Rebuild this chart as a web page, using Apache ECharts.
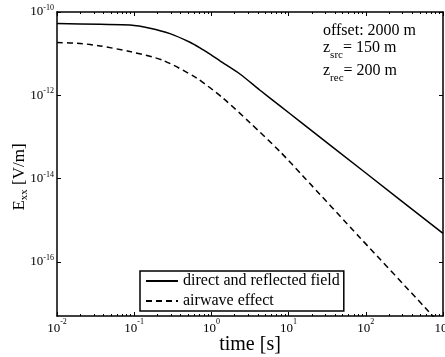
<!DOCTYPE html>
<html><head><meta charset="utf-8">
<script src="https://cdn.jsdelivr.net/npm/echarts@6/dist/echarts.min.js"></script>
<style>html,body{margin:0;padding:0;background:#fff}#c{width:445px;height:357px}</style>
</head><body><div id="c"></div>
<script>
// ---- data ----
const seriesNames = ['direct and reflected field', 'airwave effect'];
const timeDirect  = [0.01, 0.0361, 0.0883, 0.160, 0.291, 0.528, 0.711, 0.959, 1.29, 2.34, 4.27, 7.74, 14.1, 100, 1000];
const fieldDirect = [5.31e-11, 5.07e-11, 4.89e-11, 4.09e-11, 3.03e-11, 1.88e-11, 1.38e-11, 9.7e-12, 6.70e-12, 3.24e-12, 1.32e-12, 5.57e-13, 2.32e-13, 1.36e-14, 4.8e-16];
const timeAirwave  = [0.01, 0.0199, 0.0361, 0.0883, 0.236, 0.650, 1.41, 3.16, 7.74, 15.4, 84.1, 585, 1000];
const fieldAirwave = [1.84e-11, 1.76e-11, 1.53e-11, 1.12e-11, 6.89e-12, 2.55e-12, 8.57e-13, 2.19e-13, 4.44e-14, 1.14e-14, 3.80e-16, 8.00e-18, 2.70e-18];
const xTickExponents = [-2, -1, 0, 1, 2, 3];
const yTickExponents = [-16, -14, -12, -10];
const minorMantissas = [2, 3, 4, 5, 6, 7, 8, 9];
const xRange = [1e-2, 1e3];
const yRange = [5e-18, 1e-10];
const annotation = ['offset: 2000 m', ['z', 'src', '= 150 m'], ['z', 'rec', '= 200 m']];
const xTitle = 'time [s]';
const yTitle = ['E', 'xx', ' [V/m]'];

// ---- build ----
const FF = "'Liberation Serif','DejaVu Serif','Times New Roman',serif";
const xMajor = xTickExponents.map(e => Math.pow(10, e));
const yMajor = yTickExponents.map(e => Math.pow(10, e));
const xMinor = [];
xTickExponents.slice(0, -1).forEach(e => minorMantissas.forEach(m => xMinor.push(m * Math.pow(10, e))));
const expFmt = v => '{b|10}{e|' + Math.round(Math.log10(v)) + '}';

const axisLine = {show: true, onZero: false, lineStyle: {color: '#000', width: 1.5}};
function xAx(pos, ticks, len, labels, line) {
  return {
    type: 'log', logBase: 10, min: xRange[0], max: xRange[1], position: pos,
    axisLine: line ? axisLine : {show: false, onZero: false},
    axisTick: {show: true, inside: true, length: len, customValues: ticks, lineStyle: {color: '#000', width: 1}},
    minorTick: {show: false}, splitLine: {show: false},
    axisLabel: labels ? {
      show: true, customValues: xMajor, formatter: expFmt, margin: 2, color: '#000',
      rich: {b: {fontSize: 13, lineHeight: 22, verticalAlign: 'middle', fontFamily: FF, color: '#000'},
             e: {fontSize: 8, lineHeight: 8, verticalAlign: 'top', fontFamily: FF, color: '#000'}}
    } : {show: false},
    name: labels ? xTitle : '', nameLocation: 'middle', nameGap: 19, nameMoveOverlap: false,
    nameTextStyle: {fontSize: 20, lineHeight: 20, fontFamily: FF, color: '#000'}
  };
}
function yAx(pos, labels) {
  return {
    type: 'log', logBase: 10, min: yRange[0], max: yRange[1], position: pos,
    axisLine: axisLine,
    axisTick: {show: true, inside: true, length: 4, customValues: yMajor, lineStyle: {color: '#000', width: 1}},
    minorTick: {show: false}, splitLine: {show: false},
    axisLabel: labels ? {
      show: true, customValues: yMajor, formatter: expFmt, margin: 3, color: '#000',
      rich: {b: {fontSize: 13, lineHeight: 16, verticalAlign: 'middle', fontFamily: FF, color: '#000'},
             e: {fontSize: 8, lineHeight: 8, verticalAlign: 'top', fontFamily: FF, color: '#000'}}
    } : {show: false},
    name: labels ? '{m|' + yTitle[0] + '}{s|' + yTitle[1] + '}{m|' + yTitle[2] + '}' : '',
    nameLocation: 'middle', nameRotate: 90, nameGap: 27, nameMoveOverlap: false,
    nameTextStyle: {padding: [0, 26, 0, 0],
      rich: {m: {fontSize: 17, lineHeight: 21, verticalAlign: 'middle', fontFamily: FF, color: '#000'},
             s: {fontSize: 11, lineHeight: 11, verticalAlign: 'bottom', fontFamily: FF, color: '#000'}}}
  };
}
const rowRich = {m: {fontSize: 16, lineHeight: 25, verticalAlign: 'middle', fontFamily: FF, fill: '#000', color: '#000'},
                 s: {fontSize: 11, lineHeight: 11, verticalAlign: 'bottom', fontFamily: FF, fill: '#000', color: '#000'}};

const option = {
  animation: false,
  backgroundColor: '#fff',
  grid: {left: 57, right: 2, top: 12, bottom: 41, containLabel: false, outerBoundsMode: 'none'},
  xAxis: [xAx('bottom', xMajor, 4, true, true), xAx('bottom', xMinor, 2, false, false),
          xAx('top', xMajor, 4, false, true), xAx('top', xMinor, 2, false, false)],
  yAxis: [yAx('left', true), yAx('right', false)],
  legend: {
    orient: 'vertical', left: 140, top: 271, itemWidth: 32, itemHeight: 12, itemGap: 4,
    padding: [2, 4, 2, 5], backgroundColor: '#fff', borderColor: '#000', borderWidth: 1.5, borderRadius: 0,
    itemStyle: {opacity: 0},
    textStyle: {fontSize: 16, lineHeight: 16, fontFamily: FF, color: '#000'},
    data: seriesNames
  },
  series: [
    {name: seriesNames[0], type: 'line', xAxisIndex: 0, yAxisIndex: 0, symbol: 'none', smooth: 0.25,
     lineStyle: {color: '#000', width: 1.5, type: 'solid'}, itemStyle: {color: '#000'},
     data: timeDirect.map((t, i) => [t, fieldDirect[i]])},
    {name: seriesNames[1], type: 'line', xAxisIndex: 0, yAxisIndex: 0, symbol: 'none', smooth: 0.25,
     lineStyle: {color: '#000', width: 1.5, type: [6, 4]}, itemStyle: {color: '#000'},
     data: timeAirwave.map((t, i) => [t, fieldAirwave[i]])}
  ],
  graphic: [
    {type: 'text', x: 323, y: 18.5, style: {text: '{m|' + annotation[0] + '}', rich: rowRich, verticalAlign: 'top'}},
    {type: 'text', x: 323, y: 35.5, style: {text: '{m|' + annotation[1][0] + '}{s|' + annotation[1][1] + '}{m|' + annotation[1][2] + '}', rich: rowRich, verticalAlign: 'top'}},
    {type: 'text', x: 323, y: 58.5, style: {text: '{m|' + annotation[2][0] + '}{s|' + annotation[2][1] + '}{m|' + annotation[2][2] + '}', rich: rowRich, verticalAlign: 'top'}}
  ]
};
const chart = echarts.init(document.getElementById('c'), null, {renderer: 'canvas'});
chart.setOption(option);
</script></body></html>
